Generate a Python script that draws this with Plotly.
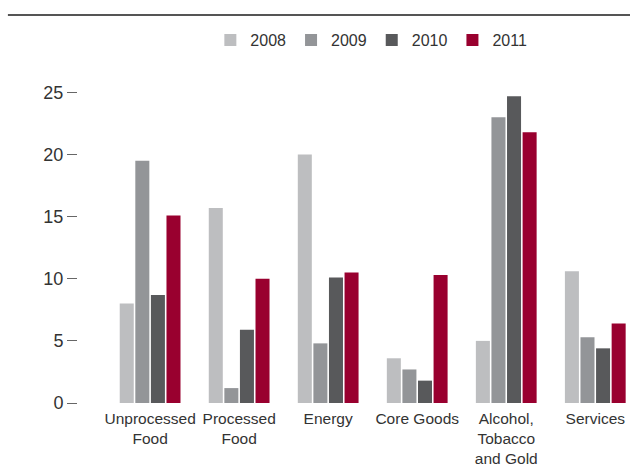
import plotly.graph_objects as go

# Contribution by component, per year
categories = [
    "Unprocessed<br>Food",
    "Processed<br>Food",
    "Energy",
    "Core Goods",
    "Alcohol,<br>Tobacco<br>and Gold",
    "Services",
]
years = ["2008", "2009", "2010", "2011"]
values_2008 = [8.0, 15.7, 20.0, 3.6, 5.0, 10.6]
values_2009 = [19.5, 1.2, 4.8, 2.7, 23.0, 5.3]
values_2010 = [8.7, 5.9, 10.1, 1.8, 24.7, 4.4]
values_2011 = [15.1, 10.0, 10.5, 10.3, 21.8, 6.4]
y_ticks = [0, 5, 10, 15, 20, 25]

series = [values_2008, values_2009, values_2010, values_2011]
colors = ["#bdbec0", "#939598", "#58595b", "#99002f"]

fig = go.Figure()
for year, vals, col in zip(years, series, colors):
    fig.add_trace(go.Bar(
        x=list(range(len(categories))),
        y=vals,
        name=year,
        marker=dict(color=col, line=dict(width=0)),
    ))

fig.update_layout(
    width=630,
    height=466,
    margin=dict(l=78, r=0, t=80, b=63, autoexpand=False),
    paper_bgcolor="white",
    plot_bgcolor="white",
    barmode="group",
    bargap=0.30,
    bargroupgap=0.1,
    font=dict(family="Liberation Sans, Arial, sans-serif", color="#333333"),
    showlegend=True,
    legend=dict(
        orientation="h",
        xref="container",
        yref="container",
        x=0.845,
        xanchor="right",
        y=1 - 40 / 466,
        yanchor="middle",
        font=dict(size=16, color="#333333"),
        itemwidth=30,
        bgcolor="rgba(0,0,0,0)",
    ),
    shapes=[dict(
        type="line",
        xref="paper", yref="paper",
        x0=-0.127, x1=1.0,
        y0=(403 - 15) / 323, y1=(403 - 15) / 323,
        line=dict(color="#555555", width=2),
    )],
)

fig.update_xaxes(
    range=[-0.81, 5.39],
    tickmode="array",
    tickvals=list(range(len(categories))),
    ticktext=categories,
    showgrid=False,
    zeroline=False,
    showline=False,
    ticks="",
    ticklabelstandoff=4,
    tickfont=dict(size=15.5, color="#333333"),
)
fig.update_yaxes(
    range=[0, 26],
    tickmode="array",
    tickvals=y_ticks,
    showgrid=False,
    zeroline=False,
    showline=False,
    ticks="outside",
    ticklen=10,
    tickwidth=1,
    tickcolor="#666666",
    tickfont=dict(size=18, color="#333333"),
)

fig.write_html("out.html")
